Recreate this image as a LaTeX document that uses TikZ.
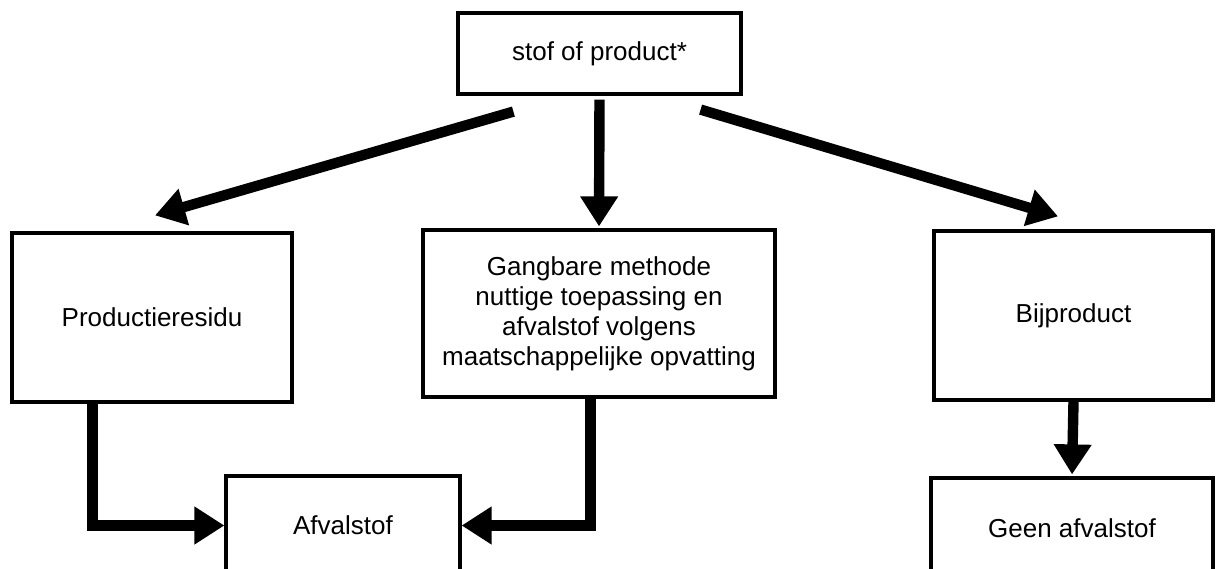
\documentclass[tikz,border=0pt]{standalone}
\usepackage{fontspec}
\setmainfont{Liberation Sans}
\usetikzlibrary{arrows.meta,calc}

\begin{document}
\begin{tikzpicture}[x=0.5pt, y=-0.5pt, line width=1.6pt,
    doos/.style={draw, line width=1.6pt, align=center, inner sep=0pt,
                 font=\fontsize{13}{15}\selectfont},
    pijl/.style={line width=5.2pt, -{Triangle[width=18pt,length=15pt]}}]

    \fill[white] (0,0) rectangle (1225,568);
    \useasboundingbox (0,0) rectangle (1225,568);
    \clip (0,0) rectangle (1225,568);

    % -- Bovenste doos --
    \node[doos, minimum width=141.5pt, minimum height=40.5pt] (stof) at (599.5,53.5) {stof of product*};

    % -- Middelste rij --
    \node[doos, minimum width=140pt, minimum height=84.5pt] (residu) at (152,317.5) {Productieresidu};
    \node[doos, minimum width=176pt, minimum height=83.5pt] (gangbaar) at (599,313.5)
        {Gangbare methode\\ nuttige toepassing en\\ afvalstof volgens\\ maatschappelijke opvatting};
    \node[doos, minimum width=139.5pt, minimum height=84.5pt] (bijprod) at (1073.5,315.5) {Bijproduct};

    % -- Onderste rij (onderkant valt buiten beeld) --
    \node[doos, minimum width=117pt, minimum height=49.5pt] (afval) at (343,525.5) {Afvalstof};
    \node[doos, minimum width=141pt, minimum height=50pt] (geen) at (1072,528) {Geen afvalstof};

    % Schuine pijlen vanuit de bovenste doos
    \coordinate (linksbegin) at ($(stof.south west)+(57,16)$);
    \coordinate (linkseind) at ($(residu.north)+(3,-16)$);
    \coordinate (rechtsbegin) at ($(stof.south east)+(-42,14)$);
    \coordinate (rechtseind) at ($(bijprod.north)+(-15.5,-13)$);

    \draw[pijl] (linksbegin) -- (linkseind);
    \draw[pijl] (rechtsbegin) -- (rechtseind);
    \draw[pijl, shorten <=2pt, shorten >=1pt] (stof.south) -- (gangbaar.north);

    % Pijlen naar de onderste rij
    \draw[pijl] ($(residu.south west)+(82,0)$) |- (afval.west);
    \draw[pijl] ($(gangbaar.south west)+(169,0)$) |- (afval.east);
    \draw[pijl, shorten >=1pt] (bijprod.south) -- (geen.north);
\end{tikzpicture}
\end{document}
